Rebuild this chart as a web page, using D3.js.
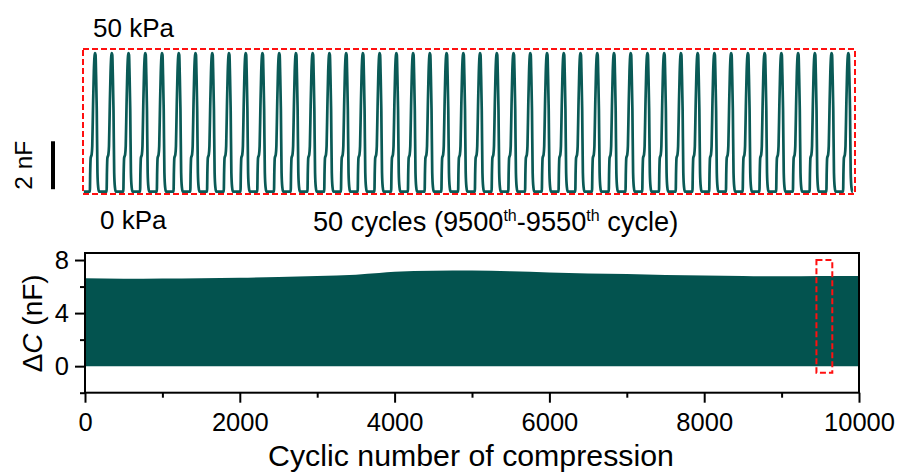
<!DOCTYPE html>
<html>
<head>
<meta charset="utf-8">
<script src="https://cdn.jsdelivr.net/npm/d3@7/dist/d3.min.js"></script>
<style>
  html, body { margin: 0; padding: 0; background: #fff; }
  svg { display: block; font-family: "Liberation Sans", Arial, sans-serif; }
</style>
</head>
<body>
<svg id="chart" width="901" height="475"></svg>
<script>
// ---------------- DATA ----------------
// Bottom panel: envelope of capacitance change over 10000 compression cycles
const envelopeCycles = [0, 500, 1000, 1500, 2000, 2500, 3000, 3500, 3800, 4000, 4500, 5000, 5500, 6000, 6500, 7000, 7500, 8000, 8500, 9000, 9500, 10000];
const envelopeMax    = [6.62, 6.58, 6.6, 6.63, 6.67, 6.72, 6.8, 6.9, 7.02, 7.12, 7.2, 7.22, 7.15, 7.06, 6.99, 6.95, 6.88, 6.83, 6.8, 6.77, 6.8, 6.8];
const envelopeMinVal = 0;
const xTicksMajor = [0, 2000, 4000, 6000, 8000, 10000];
const xTicksMinor = [1000, 3000, 5000, 7000, 9000];
const yTicksMajor = [0, 4, 8];
const yTicksMinor = [-2, 2, 6];
const zoomBox = { x0: 9450, x1: 9655, y0: -0.5, y1: 8 };

// Top panel: one loading cycle (offset from peak in cycle fractions, nF)
const cycleOffset = [-0.311, -0.287, -0.263, -0.203, -0.167, -0.119, -0.072, -0.030, 0, 0.030, 0.060, 0.102, 0.143, 0.185, 0.239];
const cycleValue  = [0, 0.9, 1.4, 1.55, 1.9, 3.6, 5.0, 5.65, 5.78, 5.7, 4.9, 3.4, 0.8, 0.2, 0];
const cycleCount = 46;
const firstPeakPhase = 0.72;
const scaleBar = { from: 0.1, to: 2.1, label: "2 nF" };

// ---------------- DRAW ----------------
const svg = d3.select("#chart");
const teal = "#03534f";
const red = "#ff1010";

// ===== Top panel =====
const tScale = d3.scaleLinear().domain([0, 46.12]).range([83, 855]);
const vScale = d3.scaleLinear().domain([-0.1, 5.95]).range([194, 49]);

const trace = [[0.05, 0]];
for (let i = 0; i < cycleCount; i++) {
  const p = i + firstPeakPhase;
  cycleOffset.forEach((o, k) => trace.push([p + o, cycleValue[k]]));
}
trace.push([cycleCount - 1 + firstPeakPhase + 0.27, 0]);

svg.append("path")
  .datum(trace)
  .attr("fill", "none")
  .attr("stroke", "#0a5a56")
  .attr("stroke-width", 2.7)
  .attr("stroke-linejoin", "round")
  .attr("d", d3.line().x(d => tScale(d[0])).y(d => vScale(d[1])).curve(d3.curveMonotoneX));

svg.append("rect")
  .attr("x", tScale(0)).attr("y", vScale(5.95))
  .attr("width", tScale(46.12) - tScale(0))
  .attr("height", vScale(-0.1) - vScale(5.95))
  .attr("fill", "none").attr("stroke", red)
  .attr("stroke-width", 2).attr("stroke-dasharray", "6,3");

// scale bar
svg.append("line")
  .attr("x1", 53).attr("x2", 53)
  .attr("y1", vScale(scaleBar.from)).attr("y2", vScale(scaleBar.to))
  .attr("stroke", "#000").attr("stroke-width", 4);
svg.append("text")
  .attr("transform", `translate(31.5,${(vScale(scaleBar.from) + vScale(scaleBar.to)) / 2}) rotate(-90)`)
  .attr("text-anchor", "middle").attr("font-size", 24.5).text(scaleBar.label);

svg.append("text").attr("x", 93).attr("y", 37.3).attr("font-size", 26).text("50 kPa");
svg.append("text").attr("x", 100).attr("y", 229).attr("font-size", 26).text("0 kPa");

const cyc = svg.append("text").attr("x", 313).attr("y", 230.7).attr("font-size", 27.2);
cyc.append("tspan").text("50 cycles (9500");
cyc.append("tspan").attr("font-size", 16).attr("dy", -10).text("th");
cyc.append("tspan").attr("dy", 10).text("-9550");
cyc.append("tspan").attr("font-size", 16).attr("dy", -10).text("th");
cyc.append("tspan").attr("dy", 10).text(" cycle)");

// ===== Bottom panel =====
const x = d3.scaleLinear().domain([0, 10000]).range([85, 859]);
const y = d3.scaleLinear().domain([-2, 8.53]).range([392.7, 253]);

svg.append("path")
  .datum(envelopeCycles.map((c, i) => ({ c, v: envelopeMax[i] })))
  .attr("fill", teal)
  .attr("d", d3.area().x(d => x(d.c)).y0(y(envelopeMinVal)).y1(d => y(d.v)).curve(d3.curveMonotoneX));

// zoom box
svg.append("rect")
  .attr("x", x(zoomBox.x0)).attr("y", y(zoomBox.y1))
  .attr("width", x(zoomBox.x1) - x(zoomBox.x0))
  .attr("height", y(zoomBox.y0) - y(zoomBox.y1))
  .attr("fill", "none").attr("stroke", red)
  .attr("stroke-width", 2).attr("stroke-dasharray", "6,3");

// axes
const gx = svg.append("g").attr("transform", `translate(0,${y(-2)})`);
gx.call(d3.axisBottom(x).tickValues(xTicksMajor).tickSize(10).tickSizeOuter(0).tickPadding(10).tickFormat(d3.format("d")));
gx.call(g => g.select(".domain").remove());
const gxm = svg.append("g").attr("transform", `translate(0,${y(-2)})`);
gxm.call(d3.axisBottom(x).tickValues(xTicksMinor).tickSize(5).tickSizeOuter(0).tickFormat(""));
gxm.call(g => g.select(".domain").remove());

const gy = svg.append("g").attr("transform", `translate(${x(0)},0)`);
gy.call(d3.axisLeft(y).tickValues(yTicksMajor).tickSize(10).tickSizeOuter(0).tickPadding(6).tickFormat(d3.format("d")));
gy.call(g => g.select(".domain").remove());
const gym = svg.append("g").attr("transform", `translate(${x(0)},0)`);
gym.call(d3.axisLeft(y).tickValues(yTicksMinor).tickSize(5).tickSizeOuter(0).tickFormat(""));
gym.call(g => g.select(".domain").remove());

svg.selectAll(".tick line").attr("stroke", "#000").attr("stroke-width", 2);
svg.selectAll(".tick text").attr("fill", "#000").attr("font-size", 25.5)
  .attr("font-family", "'Liberation Sans', Arial, sans-serif");

// frame
svg.append("rect")
  .attr("x", x(0)).attr("y", y(8.53))
  .attr("width", x(10000) - x(0)).attr("height", y(-2) - y(8.53))
  .attr("fill", "none").attr("stroke", "#000").attr("stroke-width", 2);

// axis titles
svg.append("text").attr("x", 471).attr("y", 466)
  .attr("text-anchor", "middle").attr("font-size", 30.3).text("Cyclic number of compression");

const yt = svg.append("text")
  .attr("transform", `translate(41.5,${(271.7 + 375) / 2}) rotate(-90)`)
  .attr("text-anchor", "middle").attr("font-size", 28);
yt.append("tspan").text("\u0394");
yt.append("tspan").attr("font-style", "italic").text("C");
yt.append("tspan").text(" (nF)");
</script>
</body>
</html>
